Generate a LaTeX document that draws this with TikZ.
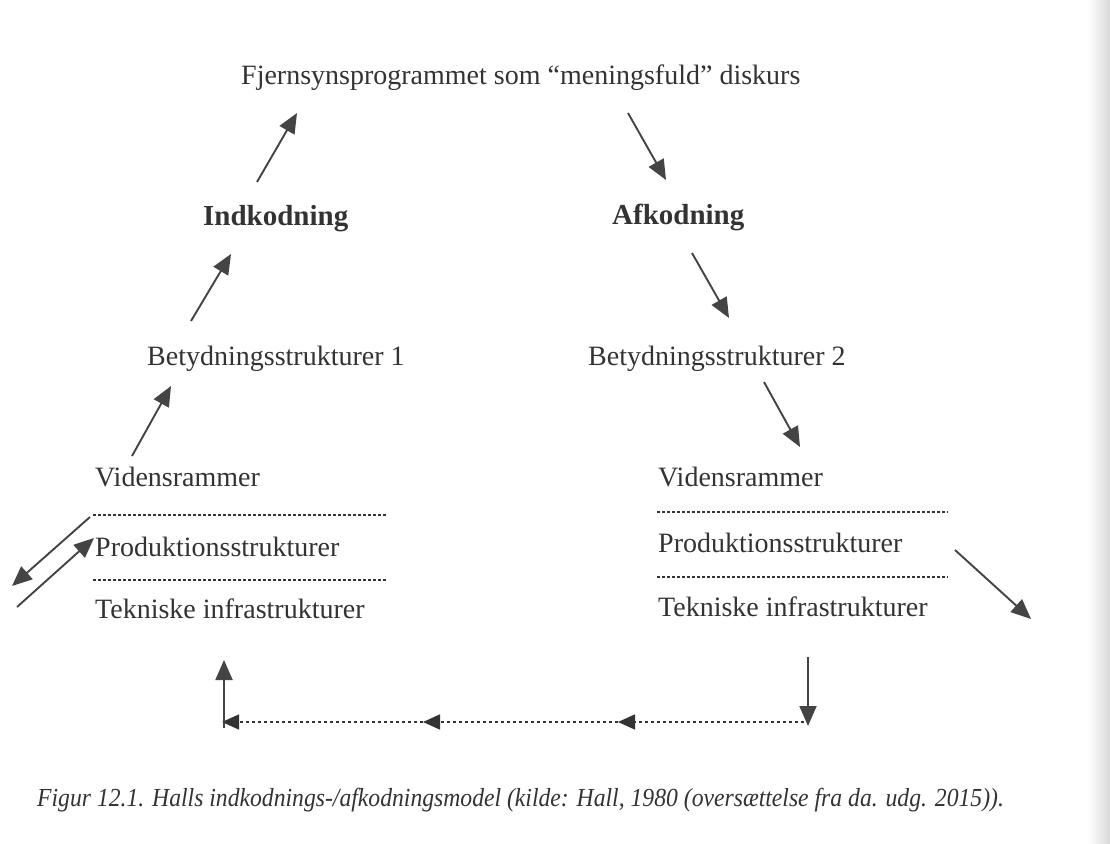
\documentclass[tikz,border=0pt]{standalone}
\usepackage{fontspec}
\setmainfont{Liberation Serif}
\usetikzlibrary{arrows.meta}
\definecolor{ink}{HTML}{333333}
\definecolor{arr}{HTML}{444444}
\begin{document}
\begin{tikzpicture}[x=1pt,y=-1pt,
 lbl/.style={anchor=base west,inner sep=0pt,text=ink,font=\fontsize{28}{30}\selectfont},
 hd/.style={lbl,font=\fontsize{29}{31}\selectfont\bfseries},
 captxt/.style={anchor=base west,inner sep=0pt,text=ink,font=\fontsize{26}{28}\selectfont\itshape},
 arw/.style={draw=arr,line width=1.9pt,-{Triangle[length=20pt,width=17pt]}},
 sep/.style={draw=ink,line width=1.3pt,dash pattern=on 3pt off 2pt},
 flow/.style={draw=ink,line width=1.6pt,dash pattern=on 3.5pt off 2.5pt,-{Triangle[length=17pt,width=15pt]}}]
\useasboundingbox (0,0) rectangle (1110,843);
\fill[white] (0,0) rectangle (1110,843);
\shade[left color=white,right color=black!15] (1088,0) rectangle (1110,843);
% texts
\node[lbl] (title) at (241,84) {Fjernsynsprogrammet som “meningsfuld” diskurs};
\node[hd] (ind) at (203,225) {Indkodning};
\node[hd] (afk) at (612,224) {Afkodning};
\node[lbl] (bet1) at (147,365) {Betydningsstrukturer 1};
\node[lbl] (bet2) at (588,365) {Betydningsstrukturer 2};
\node[lbl] (vidL) at (95,486) {Vidensrammer};
\node[lbl] (proL) at (95,556) {Produktionsstrukturer};
\node[lbl] (tekL) at (95,618) {Tekniske infrastrukturer};
\node[lbl] (vidR) at (658,486) {Vidensrammer};
\node[lbl] (proR) at (658,552) {Produktionsstrukturer};
\node[lbl] (tekR) at (658,616) {Tekniske infrastrukturer};
\node[captxt] (caption) at (37,806) {\scalebox{0.91}[1]{Figur 12.1. Halls indkodnings-/afkodningsmodel (kilde: Hall, 1980 (oversættelse fra da. udg. 2015)).}};
% separators
\draw[sep] (93,515) -- (387,515);
\draw[sep] (93,580) -- (387,580);
\draw[sep] (657,512) -- (948,512);
\draw[sep] (657,577) -- (948,577);
% arrow end points
\coordinate (a1s) at (132,456); \coordinate (a1e) at (171,386);
\coordinate (a2s) at (191,321); \coordinate (a2e) at (231,254);
\coordinate (a3s) at (257,182); \coordinate (a3e) at (297,113);
\coordinate (a4s) at (628,113); \coordinate (a4e) at (666,180);
\coordinate (a5s) at (692,253); \coordinate (a5e) at (729,318);
\coordinate (a6s) at (764,382); \coordinate (a6e) at (800,447);
\coordinate (a7s) at (955,550); \coordinate (a7e) at (1031,619);
\coordinate (l1s) at (90,517); \coordinate (l1e) at (12,586);
\coordinate (l2s) at (17,607); \coordinate (l2e) at (94,538);
\coordinate (rtop) at (808,657); \coordinate (rbot) at (808,726);
\coordinate (f0) at (804,722); \coordinate (f1) at (618,722);
\coordinate (f2) at (423,722); \coordinate (f3) at (222,722);
\coordinate (ubot) at (224,728); \coordinate (utop) at (224,660);
\draw[arw] (a1s) -- (a1e);
\draw[arw] (a2s) -- (a2e);
\draw[arw] (a3s) -- (a3e);
\draw[arw] (a4s) -- (a4e);
\draw[arw] (a5s) -- (a5e);
\draw[arw] (a6s) -- (a6e);
\draw[arw] (a7s) -- (a7e);
\draw[arw] (l1s) -- (l1e);
\draw[arw] (l2s) -- (l2e);
\draw[arw] (rtop) -- (rbot);
\draw[flow] (f0) -- (f1);
\draw[flow] (f1) -- (f2);
\draw[flow] (f2) -- (f3);
\draw[arw] (ubot) -- (utop);
\end{tikzpicture}
\end{document}
